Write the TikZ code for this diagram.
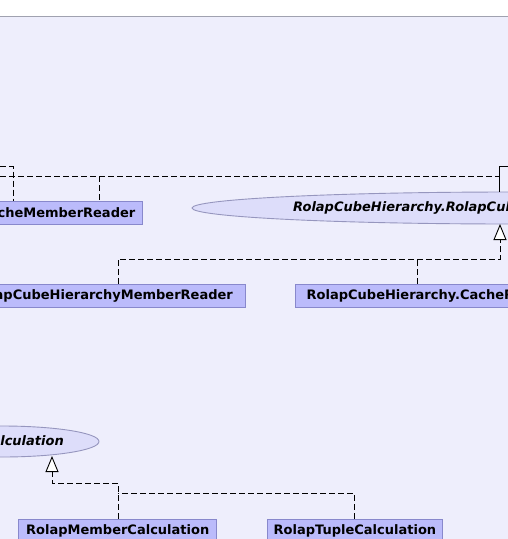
\documentclass[tikz,border=0pt]{standalone}
\usepackage{fontspec}
\newfontfamily\djv{DejaVu Sans}
\usetikzlibrary{arrows.meta,shapes.geometric}
\definecolor{bg}{RGB}{238,238,252}
\definecolor{boxfill}{RGB}{187,187,251}
\definecolor{boxline}{RGB}{136,136,204}
\definecolor{ifill}{RGB}{221,221,250}
\definecolor{iline}{RGB}{150,150,190}
\definecolor{topline}{RGB}{160,162,176}
\begin{document}
\begin{tikzpicture}[x=1pt,y=-1pt,
  cls/.style={draw=boxline, fill=boxfill, line width=0.9pt, minimum height=23pt, inner sep=0pt,
    font=\djv\bfseries\fontsize{13}{15}\selectfont},
  iface/.style={ellipse, draw=iline, fill=ifill, line width=0.9pt, inner sep=0pt},
  lbl/.style={font=\djv\bfseries\fontsize{13}{15}\selectfont, inner sep=0pt},
  ilbl/.style={font=\djv\bfseries\itshape\fontsize{13}{15}\selectfont, inner sep=0pt},
  dep/.style={dash pattern=on 6pt off 3pt, line width=0.9pt},
  real/.style={dep, -{Triangle[open, fill=white, length=16pt, width=13pt, line width=0.9pt]}}]
\useasboundingbox (0,0) rectangle (508,539);
\clip (0,0) rectangle (508,539);
\fill[bg] (0,17) rectangle (508,539);
\draw[topline, line width=1.2pt] (0,16.5) -- (508,16.5);

% upper group
\node[cls, minimum width=200pt, anchor=north east] (ncmr) at (142.5,201) {};
\node[lbl, anchor=east] (ncmrT) at ([xshift=-7pt]ncmr.east) {NoCacheMemberReader};

\node[iface, minimum width=640pt, minimum height=32pt] (rchmr) at (512,208) {};
\node[ilbl, anchor=west] (rchmrT) at (293,208) {RolapCubeHierarchy.RolapCubeHierarchyMemberReader};

\node[cls, minimum width=400pt, anchor=north east] (nocache) at (245.5,284) {};
\node[lbl, anchor=east] (nocacheT) at ([xshift=-12.5pt]nocache.east) {RolapCubeHierarchy.NoCacheRolapCubeHierarchyMemberReader};

\node[cls, minimum width=400pt, anchor=north west] (cache) at (295,284) {};
\node[lbl, anchor=west] (cacheT) at ([xshift=11.5pt]cache.west) {RolapCubeHierarchy.CacheRolapCubeHierarchyMemberReader};

% lower group
\node[iface, minimum width=194pt, minimum height=31pt] (rcalc) at (2,441.5) {};
\node[ilbl, anchor=east] (rcalcT) at (64,441.5) {RolapCalculation};

\node[cls, minimum width=198pt, anchor=north west] (rmc) at (18.3,518.5) {RolapMemberCalculation};
\node[cls, minimum width=175.5pt, anchor=north west] (rtc) at (266.7,518.5) {RolapTupleCalculation};

% connectors, upper
\coordinate (l1) at (0,166.5);
\coordinate (k1) at (13,166.5);
\coordinate (l2) at (0,176);
\coordinate (k2) at (499.5,176);
\coordinate (k3) at (99,176);
\coordinate (r1) at (508,166.5);
\coordinate (r2) at (499.5,166.5);
\draw[dep] (l1) -- (k1) -- (k1 |- ncmr.north);
\draw[dep] (l2) -- (k2);
\draw[dep] (k3) -- (k3 |- ncmr.north);
\draw[line width=0.9pt] (r1) -- (r2) -- (r2 |- rchmr.north);

\coordinate (tip1) at (500,224);
\coordinate (j1) at (118,259);
\coordinate (j2) at (417,259);
\draw[real] (j1 |- nocache.north) -- (j1) -| (tip1);
\draw[dep] (j2 |- cache.north) -- (j2);

% connectors, lower
\coordinate (tip2) at (52,456);
\coordinate (j3) at (118,483);
\coordinate (j4) at (354,493);
\draw[real] (j3 |- rmc.north) -- (j3) -| (tip2);
\draw[dep] (j4 |- rtc.north) -- (j4) -- (j4 -| j3);
\end{tikzpicture}
\end{document}
